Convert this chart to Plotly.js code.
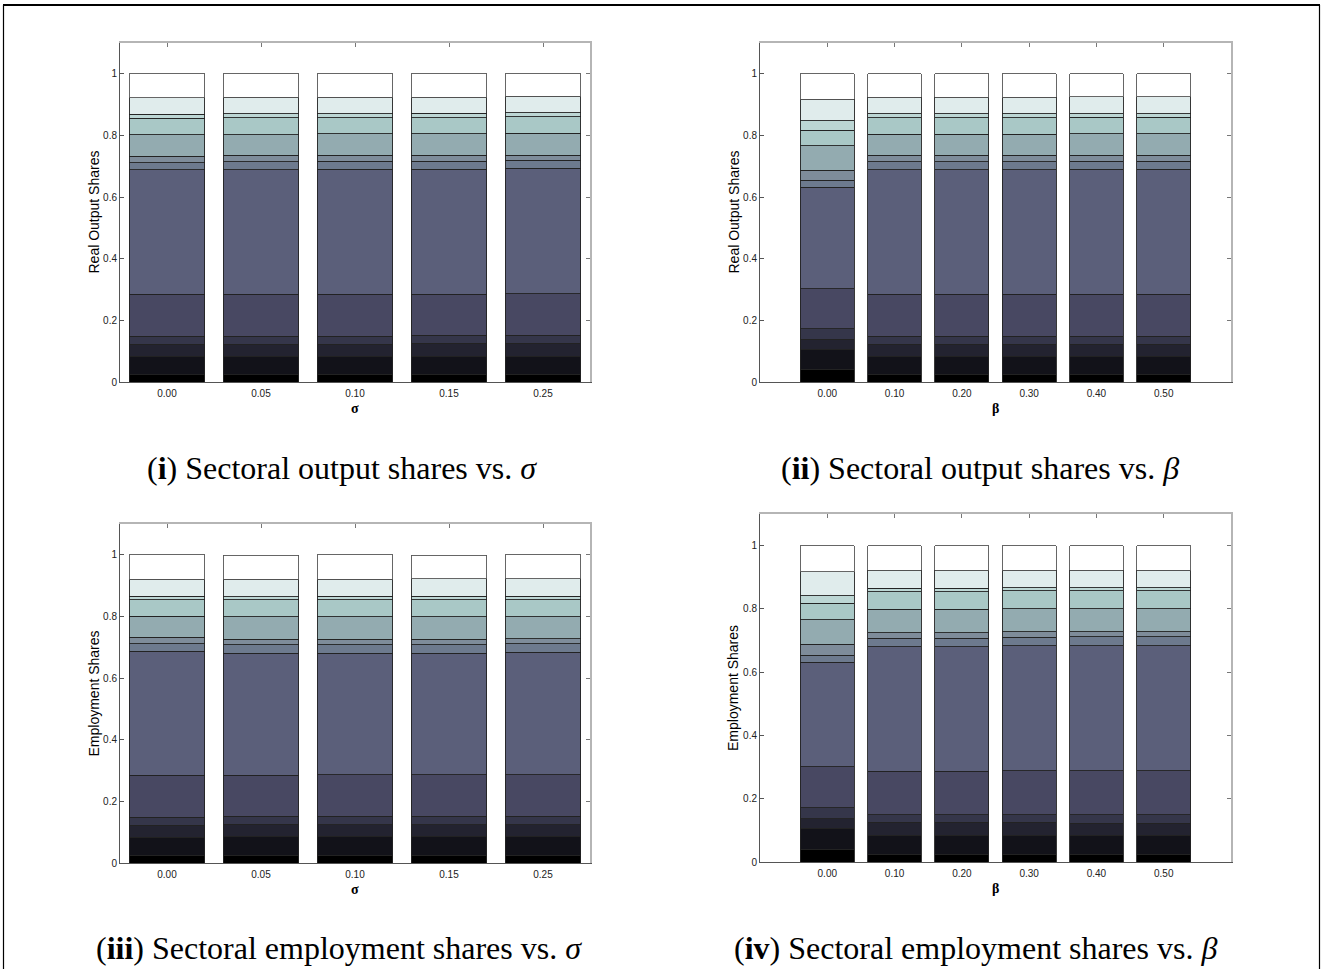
<!DOCTYPE html>
<html>
<head>
<meta charset="utf-8">
<script src="https://cdn.plot.ly/plotly-3.0.1.min.js"></script>
<style>
  html, body { margin: 0; padding: 0; background: #fff; }
  #chart { width: 1323px; height: 969px; }
</style>
</head>
<body>
<div id="chart"></div>
<script>
// ---------- data ----------
const sigmaLabels = ['0.00', '0.05', '0.10', '0.15', '0.25'];
const betaLabels  = ['0.00', '0.10', '0.20', '0.30', '0.40', '0.50'];

// sector shares, bottom (sector 1) to top (sector 13), one row per parameter value
const outputSigma = [
  [0.024, 0.059, 0.039, 0.026, 0.136, 0.404, 0.024, 0.020, 0.071, 0.053, 0.013, 0.053, 0.078],
  [0.024, 0.059, 0.039, 0.026, 0.136, 0.404, 0.026, 0.021, 0.068, 0.055, 0.012, 0.054, 0.076],
  [0.025, 0.058, 0.039, 0.026, 0.136, 0.406, 0.027, 0.019, 0.069, 0.053, 0.012, 0.054, 0.076],
  [0.025, 0.058, 0.042, 0.026, 0.133, 0.406, 0.027, 0.019, 0.069, 0.053, 0.014, 0.052, 0.076],
  [0.025, 0.058, 0.042, 0.027, 0.135, 0.406, 0.027, 0.016, 0.071, 0.054, 0.012, 0.054, 0.073]
];
const outputBeta = [
  [0.041, 0.064, 0.033, 0.035, 0.130, 0.329, 0.023, 0.032, 0.079, 0.051, 0.030, 0.071, 0.082],
  [0.025, 0.058, 0.039, 0.026, 0.136, 0.405, 0.025, 0.021, 0.069, 0.054, 0.012, 0.054, 0.076],
  [0.025, 0.058, 0.039, 0.026, 0.136, 0.405, 0.025, 0.021, 0.069, 0.054, 0.012, 0.054, 0.076],
  [0.025, 0.058, 0.039, 0.026, 0.136, 0.405, 0.025, 0.021, 0.069, 0.054, 0.012, 0.054, 0.076],
  [0.025, 0.058, 0.039, 0.026, 0.136, 0.406, 0.027, 0.019, 0.070, 0.053, 0.011, 0.056, 0.074],
  [0.025, 0.058, 0.039, 0.026, 0.136, 0.406, 0.027, 0.019, 0.070, 0.053, 0.011, 0.056, 0.074]
];
const employmentSigma = [
  [0.025, 0.059, 0.038, 0.027, 0.136, 0.402, 0.025, 0.020, 0.069, 0.054, 0.011, 0.054, 0.080],
  [0.025, 0.062, 0.039, 0.026, 0.133, 0.395, 0.029, 0.017, 0.073, 0.056, 0.009, 0.056, 0.078],
  [0.025, 0.062, 0.037, 0.028, 0.135, 0.393, 0.029, 0.017, 0.073, 0.056, 0.011, 0.054, 0.080],
  [0.025, 0.062, 0.037, 0.028, 0.135, 0.393, 0.029, 0.017, 0.073, 0.056, 0.011, 0.057, 0.075],
  [0.025, 0.062, 0.037, 0.028, 0.135, 0.397, 0.028, 0.016, 0.071, 0.056, 0.011, 0.057, 0.077]
];
const employmentBeta = [
  [0.040, 0.066, 0.031, 0.035, 0.129, 0.330, 0.023, 0.034, 0.077, 0.053, 0.024, 0.075, 0.083],
  [0.024, 0.060, 0.041, 0.025, 0.137, 0.394, 0.027, 0.017, 0.074, 0.056, 0.011, 0.056, 0.078],
  [0.024, 0.060, 0.041, 0.025, 0.137, 0.394, 0.027, 0.017, 0.074, 0.056, 0.011, 0.056, 0.078],
  [0.024, 0.061, 0.040, 0.025, 0.138, 0.396, 0.026, 0.018, 0.073, 0.056, 0.010, 0.056, 0.077],
  [0.024, 0.061, 0.037, 0.028, 0.138, 0.396, 0.028, 0.016, 0.073, 0.056, 0.010, 0.056, 0.077],
  [0.024, 0.061, 0.037, 0.028, 0.138, 0.396, 0.028, 0.016, 0.073, 0.056, 0.010, 0.056, 0.077]
];

const yTickVals = [0, 0.2, 0.4, 0.6, 0.8, 1];
const yTickText = ['0', '0.2', '0.4', '0.6', '0.8', '1'];

// ---------- style ----------
const sectorColors = ['#000000', '#121219', '#232330', '#35364a', '#484862', '#5b5f7a',
                      '#6d7a8e', '#7e8c9a', '#93abb0', '#a9c8c6', '#bcd6d4', '#e0ecec', '#ffffff'];

const W = 1323, H = 969;
const px = v => v / W;
const py = v => 1 - v / H;

const panels = [
  {data: outputSigma,     labels: sigmaLabels, ax: '',  xd: [120, 590], yd: [43, 382],  xr: [-0.5, 4.5], xt: 'σ', yt: 'Real Output Shares'},
  {data: outputBeta,      labels: betaLabels,  ax: '2', xd: [760, 1231], yd: [43, 382], xr: [-1, 6],     xt: 'β', yt: 'Real Output Shares'},
  {data: employmentSigma, labels: sigmaLabels, ax: '3', xd: [120, 590], yd: [524, 863], xr: [-0.5, 4.5], xt: 'σ', yt: 'Employment Shares'},
  {data: employmentBeta,  labels: betaLabels,  ax: '4', xd: [760, 1231], yd: [514, 862], xr: [-1, 6],     xt: 'β', yt: 'Employment Shares'}
];

const traces = [];
const layout = {
  width: W, height: H,
  margin: {l: 0, r: 0, t: 0, b: 0},
  paper_bgcolor: '#ffffff', plot_bgcolor: 'rgba(0,0,0,0)',
  barmode: 'stack', bargap: 0.2,
  showlegend: false,
  font: {family: 'Liberation Sans, Arial, sans-serif', color: '#000'},
  annotations: [],
  shapes: []
};

const tickFont = {family: 'Liberation Sans, Arial, sans-serif', size: 10, color: '#222'};

panels.forEach((p, pi) => {
  const xa = 'x' + p.ax, ya = 'y' + p.ax;
  const xKey = 'xaxis' + p.ax, yKey = 'yaxis' + p.ax;
  const idx = p.labels.map((_, i) => i);
  for (let s = 0; s < 13; s++) {
    traces.push({
      type: 'bar',
      x: idx,
      y: p.data.map(row => row[s]),
      xaxis: xa, yaxis: ya,
      marker: {color: sectorColors[s], line: {color: s === 12 ? '#555' : '#222', width: 0.9}},
      hoverinfo: 'skip'
    });
  }
  layout[xKey] = {
    domain: [px(p.xd[0]), px(p.xd[1])],
    anchor: ya,
    range: p.xr,
    tickvals: idx, ticktext: p.labels,
    ticks: '', showline: true, linecolor: '#555', linewidth: 1,
    showgrid: false, zeroline: false,
    tickfont: tickFont, ticklabelstandoff: 2,
    fixedrange: true
  };
  layout[yKey] = {
    domain: [py(p.yd[1]), py(p.yd[0])],
    anchor: xa,
    range: [0, 1.1],
    tickvals: yTickVals, ticktext: yTickText,
    ticks: 'inside', ticklen: 4, tickcolor: '#555',
    showline: true, linecolor: '#555', linewidth: 1,
    showgrid: false, zeroline: false,
    tickfont: tickFont,
    fixedrange: true
  };
  // top & right frame with inside ticks (overlay axes carrying an invisible trace)
  const n = 5 + pi;
  layout['xaxis' + n] = {
    overlaying: xa, anchor: 'y' + n, side: 'top',
    range: p.xr, tickvals: idx, showticklabels: false,
    ticks: 'inside', ticklen: 4, tickcolor: '#777',
    showline: true, linecolor: '#b5b5b5', linewidth: 2,
    showgrid: false, zeroline: false, fixedrange: true
  };
  layout['yaxis' + n] = {
    domain: [py(p.yd[1]), py(p.yd[0])],
    overlaying: ya, anchor: 'x' + n, side: 'right',
    range: [0, 1.1], tickvals: yTickVals, showticklabels: false,
    ticks: 'inside', ticklen: 4, tickcolor: '#777',
    showline: true, linecolor: '#b5b5b5', linewidth: 1.5,
    showgrid: false, zeroline: false, fixedrange: true
  };
  traces.push({
    type: 'scatter', mode: 'markers', x: [0], y: [-1],
    xaxis: 'x' + n, yaxis: 'y' + n,
    marker: {opacity: 0}, hoverinfo: 'skip'
  });
  // axis titles
  const cx = (p.xd[0] + p.xd[1]) / 2;
  const cy = (p.yd[0] + p.yd[1]) / 2;
  layout.annotations.push({
    xref: 'paper', yref: 'paper', x: px(cx), y: py(p.yd[1] + 26),
    text: '<b>' + p.xt + '</b>', showarrow: false,
    font: {family: 'Liberation Serif, Times New Roman, serif', size: 14, color: '#000'},
    xanchor: 'center', yanchor: 'middle'
  });
  layout.annotations.push({
    xref: 'paper', yref: 'paper', x: px(p.xd[0] - 27), y: py(cy),
    text: p.yt, showarrow: false, textangle: -90,
    font: {family: 'Liberation Sans, Arial, sans-serif', size: 14, color: '#000'},
    xanchor: 'center', yanchor: 'middle'
  });
});

// captions
const captions = [
  {t: '(<b>i</b>) Sectoral output shares vs. <i>σ</i>', x: 342, y: 468},
  {t: '(<b>ii</b>) Sectoral output shares vs. <i>β</i>', x: 980, y: 468},
  {t: '(<b>iii</b>) Sectoral employment shares vs. <i>σ</i>', x: 339, y: 948},
  {t: '(<b>iv</b>) Sectoral employment shares vs. <i>β</i>', x: 975, y: 948}
];
captions.forEach(c => layout.annotations.push({
  xref: 'paper', yref: 'paper', x: px(c.x), y: py(c.y),
  text: c.t, showarrow: false,
  font: {family: 'Liberation Serif, Times New Roman, serif', size: 32, color: '#000'},
  xanchor: 'center', yanchor: 'middle'
}));

// outer frame
layout.shapes.push(
  {type: 'line', xref: 'paper', yref: 'paper', x0: px(3), x1: px(1320), y0: py(5), y1: py(5), line: {color: '#000', width: 2}},
  {type: 'line', xref: 'paper', yref: 'paper', x0: px(3.5), x1: px(3.5), y0: py(5), y1: 0, line: {color: '#000', width: 1.2}},
  {type: 'line', xref: 'paper', yref: 'paper', x0: px(1319.5), x1: px(1319.5), y0: py(5), y1: 0, line: {color: '#000', width: 1.2}}
);

Plotly.newPlot('chart', traces, layout, {staticPlot: true, displayModeBar: false});
</script>
</body>
</html>
